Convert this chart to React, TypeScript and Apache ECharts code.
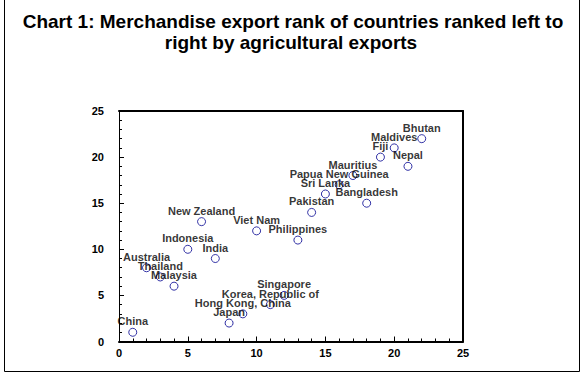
import React, { useEffect, useRef } from "react";
import * as echarts from "echarts";

const countries = [
  "China", "Australia", "Thailand", "Malaysia", "Indonesia", "New Zealand", "India",
  "Japan", "Hong Kong, China", "Viet Nam", "Korea, Republic of", "Singapore",
  "Philippines", "Pakistan", "Sri Lanka", "Papua New Guinea", "Mauritius",
  "Bangladesh", "Fiji", "Maldives", "Nepal", "Bhutan",
];
const agriRank = [1, 2, 3, 4, 5, 6, 7, 8, 9, 10, 11, 12, 13, 14, 15, 16, 17, 18, 19, 20, 21, 22];
const merchRank = [1, 8, 7, 6, 10, 13, 9, 2, 3, 12, 4, 5, 11, 14, 16, 17, 18, 15, 20, 21, 19, 22];
const titleLines = [
  "Chart 1: Merchandise export rank of countries ranked left to",
  "right by agricultural exports",
];

const FONT = "Liberation Sans, Arial, sans-serif";

export default function App() {
  const ref = useRef<HTMLDivElement>(null);
  useEffect(() => {
    if (!ref.current) return;
    const chart = echarts.init(ref.current, null, { renderer: "svg" });
    const data = countries.map((n, i) => ({ name: n, value: [agriRank[i], merchRank[i]] }));
    const axisCommon = {
      min: 0,
      max: 25,
      interval: 5,
      splitLine: { show: false },
    };
    chart.setOption({
      animation: false,
      backgroundColor: "#fff",
      grid: { left: 119, right: 121, top: 111, bottom: 35.5, show: false },
      xAxis: [
        {
          ...axisCommon,
          type: "value",
          position: "bottom",
          axisLine: { show: true, onZero: false, lineStyle: { color: "#000", width: 2 } },
          axisTick: { show: true, inside: true, length: 5, lineStyle: { color: "#000" } },
          minorTick: { show: true, splitNumber: 5, length: 3, lineStyle: { color: "#000" } },
          axisLabel: { color: "#000", fontSize: 11, fontWeight: "bold", fontFamily: FONT, margin: 6 },
        },
        {
          ...axisCommon,
          type: "value",
          position: "top",
          axisLine: { show: true, onZero: false, lineStyle: { color: "#000", width: 2 } },
          axisTick: { show: false },
          axisLabel: { show: false },
        },
      ],
      yAxis: [
        {
          ...axisCommon,
          type: "value",
          position: "left",
          axisLine: { show: true, onZero: false, lineStyle: { color: "#000", width: 1 } },
          axisTick: { show: true, inside: true, length: 5, lineStyle: { color: "#000" } },
          minorTick: { show: true, splitNumber: 5, length: 3, lineStyle: { color: "#000" } },
          axisLabel: { color: "#000", fontSize: 11, fontWeight: "bold", fontFamily: FONT, margin: 15 },
        },
        {
          ...axisCommon,
          type: "value",
          position: "right",
          axisLine: { show: true, onZero: false, lineStyle: { color: "#000", width: 2 } },
          axisTick: { show: false },
          axisLabel: { show: false },
        },
      ],
      graphic: [
        {
          type: "rect",
          silent: true,
          shape: { x: 4.5, y: -10, width: 575, height: 381.5 },
          style: { fill: "none", stroke: "#000", lineWidth: 1 },
        },
        {
          type: "text",
          x: 293,
          y: 21,
          style: {
            text: titleLines[0],
            textAlign: "center",
            textVerticalAlign: "middle",
            font: `bold 19px ${FONT}`,
            fill: "#000",
          },
        },
        {
          type: "text",
          x: 291,
          y: 42,
          style: {
            text: titleLines[1],
            textAlign: "center",
            textVerticalAlign: "middle",
            font: `bold 19px ${FONT}`,
            fill: "#000",
          },
        },
      ],
      series: [
        {
          type: "scatter",
          xAxisIndex: 0,
          yAxisIndex: 0,
          data,
          symbol: "circle",
          symbolSize: 8,
          itemStyle: { color: "rgba(0,0,0,0)", borderColor: "#000090", borderWidth: 1 },
          label: {
            show: true,
            position: "top",
            distance: 1,
            formatter: (p: any) => p.name,
            color: "#000",
            fontSize: 11,
            fontWeight: "bold",
            fontFamily: FONT,
          },
          labelLayout: { hideOverlap: false },
        },
      ],
    });
    return () => chart.dispose();
  }, []);
  return (
    <div
      ref={ref}
      style={{ position: "fixed", left: 0, top: 0, width: 584, height: 377, background: "#fff" }}
    />
  );
}
